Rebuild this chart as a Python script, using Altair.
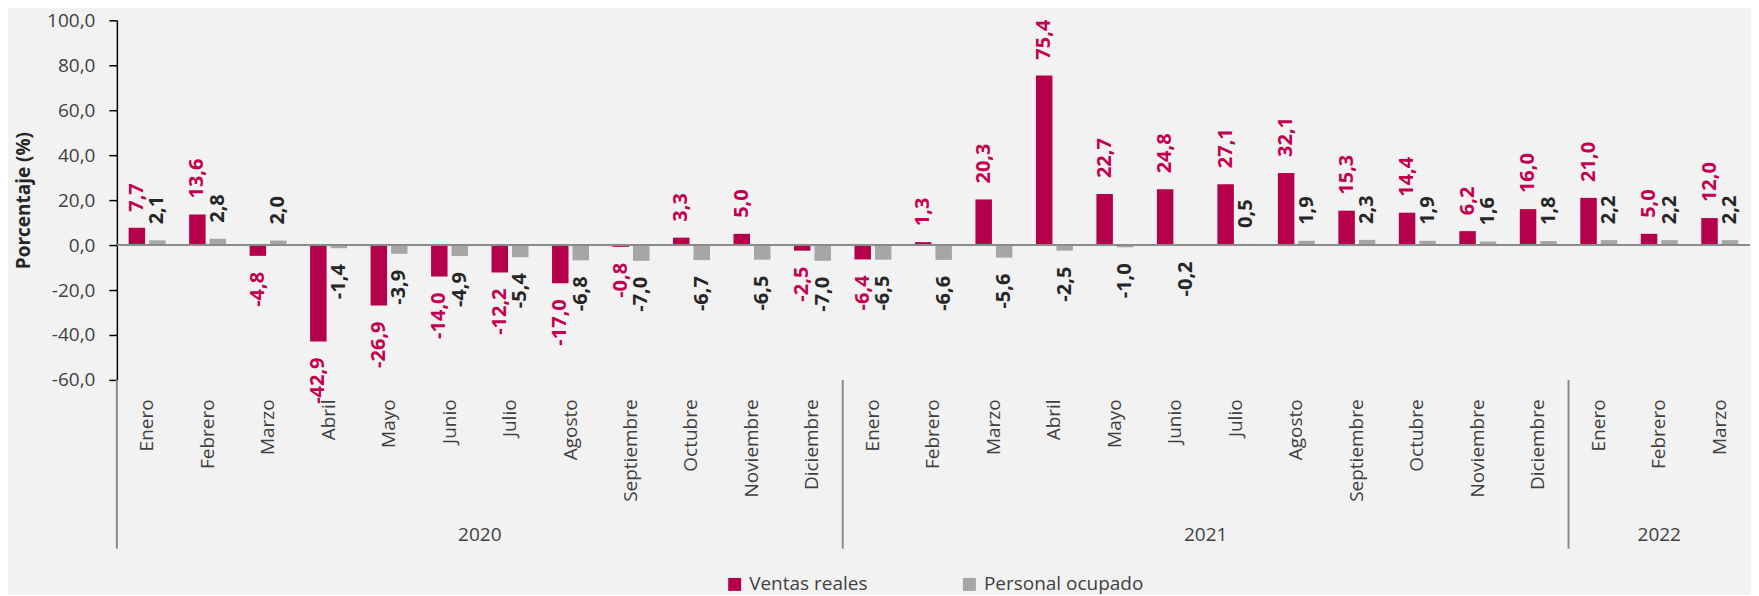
import altair as alt
import pandas as pd

meses = ["Enero", "Febrero", "Marzo", "Abril", "Mayo", "Junio", "Julio", "Agosto",
         "Septiembre", "Octubre", "Noviembre", "Diciembre"]
mes_labels = meses + meses + meses[:3]
anios = ["2020"] * 12 + ["2021"] * 12 + ["2022"] * 3

ventas = [7.7, 13.6, -4.8, -42.9, -26.9, -14.0, -12.2, -17.0, -0.8, 3.3, 5.0, -2.5,
          -6.4, 1.3, 20.3, 75.4, 22.7, 24.8, 27.1, 32.1, 15.3, 14.4, 6.2, 16.0,
          21.0, 5.0, 12.0]
personal = [2.1, 2.8, 2.0, -1.4, -3.9, -4.9, -5.4, -6.8, -7.0, -6.7, -6.5, -7.0,
            -6.5, -6.6, -5.6, -2.5, -1.0, -0.2, 0.5, 1.9, 2.3, 1.9, 1.6, 1.8,
            2.2, 2.2, 2.2]
series = ["Ventas reales", "Personal ocupado"]

CRIMSON = "#b5004b"
CRIMSON_TXT = "#c2004f"
GRIS = "#a6a6a6"
GRIS_TXT = "#262626"
AX = "#404040"
FONT = "Open Sans"


def fmt(v):
    return ("-" if v < 0 else "") + f"{abs(v):.1f}".replace(".", ",")


rows = []
for i in range(len(mes_labels)):
    rows.append({"idx": i, "serie": series[0], "valor": ventas[i], "label": fmt(ventas[i])})
    rows.append({"idx": i, "serie": series[1], "valor": personal[i], "label": fmt(personal[i])})
df = pd.DataFrame(rows)

# year groups
year_names = []
year_first = []
year_count = []
for i, a in enumerate(anios):
    if a not in year_names:
        year_names.append(a)
        year_first.append(i)
        year_count.append(0)
    year_count[year_names.index(a)] += 1

years_int = []
years_half = []
for n, f, c in zip(year_names, year_first, year_count):
    centro = f + c / 2
    if float(centro).is_integer():
        years_int.append({"idx": int(centro), "anio": n})
    else:
        years_half.append({"idx": int(centro), "anio": n})
seps = pd.DataFrame({"idx": year_first})

label_expr = "[" + ",".join(f"'{m}'" for m in mes_labels) + "][datum.value]"

x_scale = alt.Scale(paddingInner=0, paddingOuter=0)
x_axis = alt.Axis(title=None, labelExpr=label_expr, labelAngle=270, labelFontSize=19,
                  labelColor=AX, labelFont=FONT, domain=False, ticks=False, tickSize=0,
                  labelPadding=19, labelLimit=300)


def xenc(bp=None):
    if bp is None:
        return alt.X("idx:O", scale=x_scale, axis=x_axis)
    return alt.X("idx:O", scale=x_scale, axis=x_axis, bandPosition=bp)


y_enc = alt.Y("valor:Q", stack=None,
              scale=alt.Scale(domain=[-60, 100], nice=False),
              axis=alt.Axis(values=list(range(-60, 101, 20)),
                            labelExpr="(datum.value < 0 ? '-' : '') + replace(format(abs(datum.value), '.1f'), '.', ',')",
                            title="Porcentaje (%)", titleFontWeight="bold", titleFontSize=19,
                            titleColor="#262626", titleFont=FONT,
                            labelFontSize=19, labelColor=AX, labelFont=FONT,
                            domainColor="#000000", domainWidth=1.5, tickColor="#000000",
                            tickWidth=1.5, tickSize=8, labelPadding=14, titlePadding=13,
                            grid=False))

xoff = alt.XOffset("serie:N", sort=series,
                   scale=alt.Scale(domain=series, paddingInner=0.195, paddingOuter=0.574))

bars = alt.Chart(df).mark_bar().encode(
    x=xenc(), xOffset=xoff, y=y_enc,
    color=alt.Color("serie:N", sort=series,
                    scale=alt.Scale(domain=series, range=[CRIMSON, GRIS]),
                    legend=alt.Legend(title=None, orient="none", direction="horizontal",
                                      legendX=609, legendY=555, symbolType="square",
                                      symbolSize=169, symbolStrokeWidth=0,
                                      labelFontSize=19, labelColor=AX, labelFont=FONT,
                                      columnPadding=92, labelOffset=5)),
)

zero = alt.Chart(pd.DataFrame({"valor": [0]})).mark_rule(color="#8a8a8a", strokeWidth=2).encode(y=y_enc)


def labels(serie, pos, color):
    cond = ">=" if pos else "<"
    return alt.Chart(df).transform_filter(
        f"datum.serie == '{serie}' && datum.valor {cond} 0"
    ).mark_text(angle=270, align="left" if pos else "right", baseline="middle",
                dx=16 if pos else -16, fontSize=20, fontWeight="bold", font=FONT,
                color=color).encode(x=xenc(), xOffset=xoff, y=y_enc, text="label:N")


sep_layer = alt.Chart(seps).mark_rule(color="#8c8c8c", strokeWidth=2).encode(
    x=xenc(0), y=alt.value(360), y2=alt.value(529))

year_layers = []
if years_int:
    year_layers.append(alt.Chart(pd.DataFrame(years_int)).mark_text(
        fontSize=19, color=AX, font=FONT, baseline="middle").encode(
        x=xenc(0), y=alt.value(515), text="anio:N"))
if years_half:
    year_layers.append(alt.Chart(pd.DataFrame(years_half)).mark_text(
        fontSize=19, color=AX, font=FONT, baseline="middle").encode(
        x=xenc(0.5), y=alt.value(515), text="anio:N"))

chart = alt.layer(
    bars, zero,
    labels(series[0], True, CRIMSON_TXT), labels(series[0], False, CRIMSON_TXT),
    labels(series[1], True, GRIS_TXT), labels(series[1], False, GRIS_TXT),
    sep_layer, *year_layers,
).properties(
    width=1635, height=360,
    padding={"left": 6, "top": 3, "right": 0, "bottom": 0},
).configure(
    background="#f2f2f2", font=FONT
).configure_view(stroke=None)

chart.save("out.html", embed_options={"renderer": "svg", "actions": False})
